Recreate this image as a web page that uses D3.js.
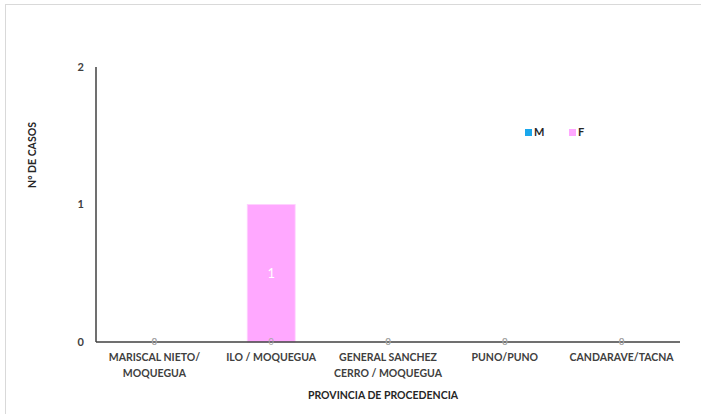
<!DOCTYPE html>
<html>
<head>
<meta charset="utf-8">
<script src="https://cdn.jsdelivr.net/npm/d3@7"></script>
<style>
  body { margin: 0; background: #fff; }
  svg { font-family: Lato, "Open Sans", sans-serif; }
</style>
</head>
<body>
<svg id="chart" width="701" height="414"></svg>
<script>
// data
const provincias = [
  ["MARISCAL NIETO/", "MOQUEGUA"],
  ["ILO / MOQUEGUA"],
  ["GENERAL SANCHEZ", "CERRO / MOQUEGUA"],
  ["PUNO/PUNO"],
  ["CANDARAVE/TACNA"]
];
const series = ["M", "F"];
const valoresM = [0, 0, 0, 0, 0];
const valoresF = [0, 1, 0, 0, 0];
const yTicks = [0, 1, 2];
const colores = { M: "#1aa7ec", F: "#ffa8ff" };

const svg = d3.select("#chart");

// frame lines like the sheet's chart area
svg.append("line").attr("x1", 5).attr("x2", 701).attr("y1", 4.5).attr("y2", 4.5)
  .attr("stroke", "#d9d9d9");
svg.append("line").attr("x1", 5.5).attr("x2", 5.5).attr("y1", 4).attr("y2", 414)
  .attr("stroke", "#d9d9d9");

const plotLeft = 96, plotRight = 680, plotTop = 67, plotBottom = 342;

const x = d3.scaleBand()
  .domain(d3.range(provincias.length))
  .range([plotLeft, plotRight])
  .paddingInner(0.59)
  .paddingOuter(0.295);

const y = d3.scaleLinear().domain([0, 2]).range([plotBottom, plotTop]);

const rows = provincias.map((p, i) => ({ i: i, M: valoresM[i], F: valoresF[i] }));
const stack = d3.stack().keys(series)(rows);

// bars
svg.append("g").selectAll("g")
  .data(stack)
  .join("g")
  .attr("fill", d => colores[d.key])
  .selectAll("rect")
  .data(d => d)
  .join("rect")
    .attr("x", d => x(d.data.i))
    .attr("y", d => y(d[1]))
    .attr("width", x.bandwidth())
    .attr("height", d => y(d[0]) - y(d[1]))
    .attr("stroke", "#ffd0ff")
    .attr("stroke-width", 0.8);

// axes
svg.append("line")
  .attr("x1", plotLeft).attr("x2", plotLeft).attr("y1", y(2)).attr("y2", y(0))
  .attr("stroke", "#404040").attr("stroke-width", 1.5);
svg.append("line")
  .attr("x1", plotLeft).attr("x2", plotRight).attr("y1", y(0)).attr("y2", y(0))
  .attr("stroke", "#404040").attr("stroke-width", 1.5);

svg.append("g").selectAll("text")
  .data(yTicks)
  .join("text")
    .attr("x", plotLeft - 12)
    .attr("y", d => y(d))
    .attr("dy", "0.35em")
    .attr("text-anchor", "end")
    .attr("font-size", 11)
    .attr("font-weight", "bold")
    .attr("fill", "#404040")
    .text(d => d);

// data labels
stack.forEach(s => {
  svg.append("g").selectAll("text")
    .data(s)
    .join("text")
      .attr("x", d => x(d.data.i) + x.bandwidth() / 2)
      .attr("y", d => y((d[0] + d[1]) / 2))
      .attr("dy", "0.35em")
      .attr("text-anchor", "middle")
      .attr("font-size", d => (d[1] - d[0]) > 0 ? 13 : 9)
      .attr("fill", d => (d[1] - d[0]) > 0 ? "#ffffff" : "#a6a6a6")
      .text(d => d[1] - d[0]);
});

// category labels
const cat = svg.append("g").selectAll("text")
  .data(provincias)
  .join("text")
    .attr("x", (d, i) => x(i) + x.bandwidth() / 2)
    .attr("y", 361)
    .attr("text-anchor", "middle")
    .attr("font-size", 10.5)
    .attr("font-weight", "bold")
    .attr("fill", "#404040");
cat.selectAll("tspan")
  .data(d => d)
  .join("tspan")
    .attr("x", function () { return d3.select(this.parentNode).attr("x"); })
    .attr("dy", (d, i) => i === 0 ? 0 : 16)
    .text(d => d);

// axis titles
svg.append("text")
  .attr("x", 383).attr("y", 399)
  .attr("text-anchor", "middle")
  .attr("font-size", 10.5).attr("font-weight", "bold").attr("fill", "#262626")
  .text("PROVINCIA DE PROCEDENCIA");

svg.append("text")
  .attr("transform", "translate(36,155) rotate(-90)")
  .attr("text-anchor", "middle")
  .attr("font-size", 10.5).attr("font-weight", "bold").attr("fill", "#262626")
  .text("N° DE CASOS");

// legend
const legendX = [525, 569];
const lg = svg.append("g").selectAll("g")
  .data(series)
  .join("g")
  .attr("transform", (d, i) => `translate(${legendX[i]},129)`);
lg.append("rect").attr("width", 7).attr("height", 7).attr("fill", d => colores[d]);
lg.append("text").attr("x", 9).attr("y", 3.5).attr("dy", "0.35em")
  .attr("font-size", 11).attr("font-weight", "bold").attr("fill", "#262626")
  .text(d => d);
</script>
</body>
</html>
